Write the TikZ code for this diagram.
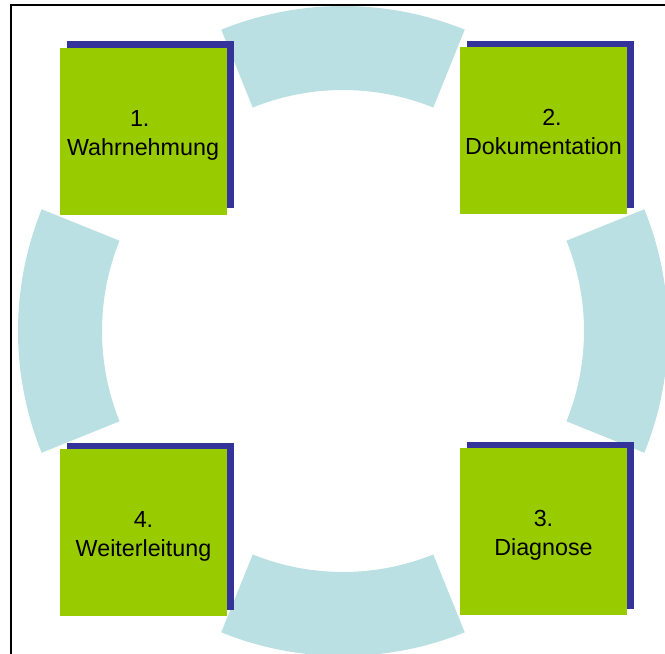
\documentclass[tikz,border=0pt]{standalone}
\usepackage{fontspec}
\setmainfont{Liberation Sans}
\usetikzlibrary{shadows}
\definecolor{ringblue}{RGB}{187,224,227}
\definecolor{boxgreen}{RGB}{153,204,0}
\definecolor{shadowblue}{RGB}{51,51,153}
\begin{document}
\begin{tikzpicture}[x=1pt,y=1pt,
  segment/.style={fill=ringblue},
  stepbox/.style={fill=boxgreen, minimum size=167pt, inner sep=0pt,
    general shadow={fill=shadowblue, shadow xshift=7pt, shadow yshift=6.5pt}},
  steptext/.style={align=center, inner sep=0pt, yshift=-3.7pt,
    font=\fontsize{23.3}{29}\selectfont},
  frame/.style={draw=black, line width=2pt}]
\useasboundingbox (0,0) rectangle (665,-654);
\clip (0,0) rectangle (665,-654);
\coordinate (c) at (343,-331);
% four ring segments, 44 degrees each
\foreach \a [evaluate=\a as \s using \a-22, evaluate=\a as \e using \a+22] in {90,0,270,180} {
  \fill[segment] ([shift={(c)}]\s:325) arc[start angle=\s, end angle=\e, radius=325]
     -- ([shift={(c)}]\e:241) arc[start angle=\e, end angle=\s, radius=241] -- cycle;
}
% step boxes
\node[stepbox] (b1) at (143,-131) {};
\node[stepbox] (b2) at (543.5,-130.5) {};
\node[stepbox] (b3) at (543.5,-531.5) {};
\node[stepbox] (b4) at (143.5,-532.5) {};
\node[steptext] (t1) at (b1) {\strut 1.\hspace*{6.5pt}\\\strut Wahrnehmung};
\node[steptext] (t2) at (b2) {\strut\hspace*{17pt}2.\\\strut Dokumentation};
\node[steptext] (t3) at (b3) {\strut 3.\\\strut Diagnose};
\node[steptext] (t4) at (b4) {\strut 4.\\\strut Weiterleitung};
% outer frame
\draw[frame] (11,-5) rectangle (700,-700);
\end{tikzpicture}
\end{document}
